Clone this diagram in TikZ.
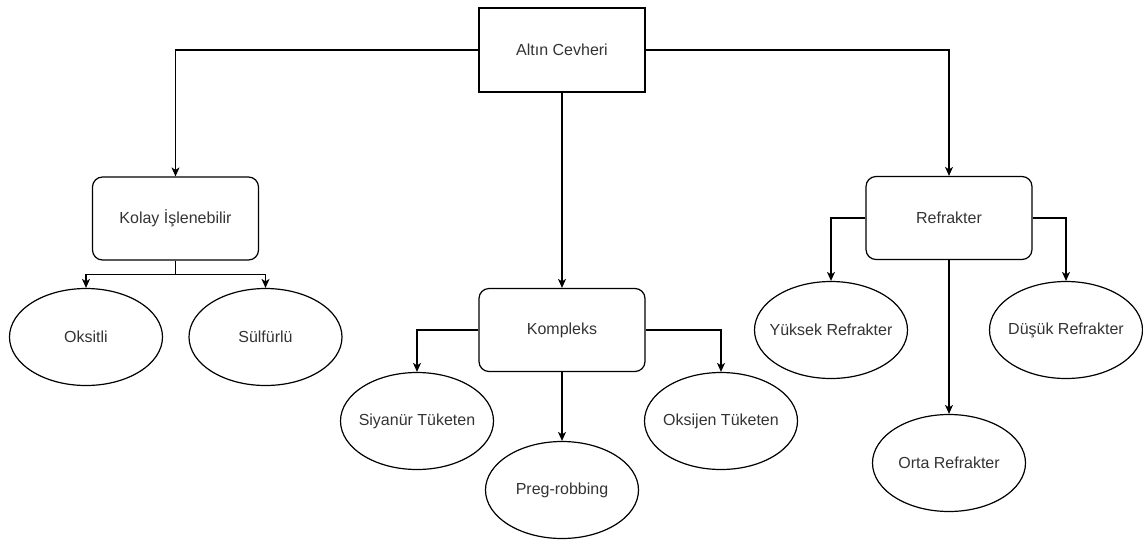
\documentclass[tikz,border=0pt]{standalone}
\usepackage{fontspec}
\setmainfont{Liberation Sans}
\usetikzlibrary{arrows.meta,shapes.geometric}

\begin{document}
\begin{tikzpicture}[x=1pt,y=-1pt,->,>={Stealth[length=9pt,width=8pt,inset=2.5pt]},
                line width=1.2pt,
                font=\fontsize{16}{19}\selectfont\color{black!80},
                root node/.style={rectangle,draw,-,minimum width=166pt,minimum height=84pt,inner sep=0pt},
                main node/.style={rectangle,draw,-,rounded corners=10pt,minimum width=166pt,minimum height=83pt,inner sep=0pt},
                leaf node/.style={ellipse,draw,-,minimum width=153pt,minimum height=97pt,inner ysep=0pt,inner xsep=-16pt},
                hv/.style={to path={-| (\tikztotarget)}},
                split/.style={to path={-- ++(0,14) -| (\tikztotarget)}}]

  \useasboundingbox (0,0) rectangle (1143,539);

  \node[root node] (ore) at (562,50) {Altın Cevheri};

  \node[main node] (easy) at (175.5,218.5) {Kolay İşlenebilir};
  \node[main node] (complex) at (562,330) {Kompleks};
  \node[main node] (refr) at (949,218) {Refrakter};

  \node[leaf node] (oxide) at (86,337) {Oksitli};
  \node[leaf node] (sulfide) at (265.5,337) {Sülfürlü};

  \node[leaf node] (cyan) at (417,421) {Siyanür Tüketen};
  \node[leaf node] (preg) at (562,490) {Preg-robbing};
  \node[leaf node] (oxy) at (721,421) {Oksijen Tüketen};

  \node[leaf node] (high) at (831,330) {Yüksek Refrakter};
  \node[leaf node] (low) at (1066,330) {Düşük Refrakter};
  \node[leaf node] (mid) at (949,463) {Orta Refrakter};

  \path
    (ore.west) edge [hv] (easy.north)
    (ore.east) edge [hv] (refr.north)
    (ore.south) edge (complex.north)
    (easy.south) edge [split] (oxide.north)
                 edge [split] (sulfide.north)
    (complex.west) edge [hv] (cyan.north)
    (complex.east) edge [hv] (oxy.north)
    (complex.south) edge (preg.north)
    (refr.west) edge [hv] (high.north)
    (refr.east) edge [hv] (low.north)
    (refr.south) edge (mid.north);
\end{tikzpicture}
\end{document}
